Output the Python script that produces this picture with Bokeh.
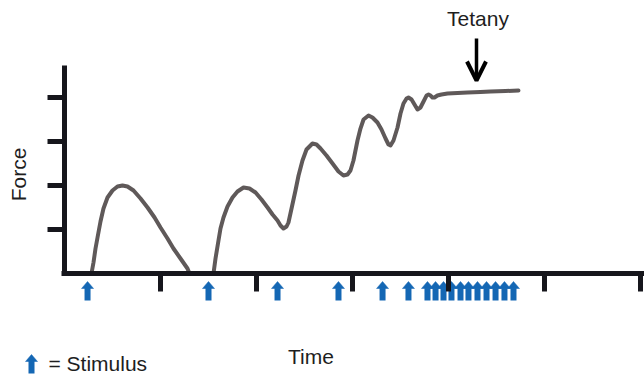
from bokeh.plotting import figure
from bokeh.models import (Range1d, LinearAxis, FixedTicker, ColumnDataSource,
                          Arrow, OpenHead)
from bokeh.core.properties import value
from bokeh.embed import file_html
from bokeh.resources import INLINE

# Force trace (time in tick units, force in tick units)
trace_time = [0.281, 0.302, 0.323, 0.344, 0.375, 0.406, 0.448, 0.500, 0.552, 0.604,
              0.656, 0.719, 0.792, 0.865, 0.938, 1.000, 1.073, 1.135, 1.208, 1.281,
              1.302, 1.552, 1.573, 1.604, 1.625, 1.656, 1.698, 1.750, 1.802, 1.865,
              1.927, 1.990, 2.052, 2.115, 2.167, 2.219, 2.250, 2.281, 2.313, 2.333,
              2.365, 2.406, 2.438, 2.479, 2.521, 2.583, 2.625, 2.667, 2.729, 2.792,
              2.854, 2.906, 2.948, 2.979, 3.010, 3.052, 3.083, 3.115, 3.167, 3.208,
              3.260, 3.302, 3.344, 3.375, 3.396, 3.427, 3.469, 3.500, 3.531, 3.563,
              3.583, 3.615, 3.646, 3.677, 3.708, 3.740, 3.771, 3.792, 3.813, 3.833,
              3.854, 3.885, 3.927, 3.990, 4.094, 4.198, 4.333, 4.438, 4.594, 4.729]
trace_force = [0.000, 0.250, 0.568, 0.818, 1.182, 1.477, 1.727, 1.886, 1.977, 2.000,
               1.977, 1.886, 1.705, 1.500, 1.273, 1.045, 0.795, 0.568, 0.341, 0.114,
               0.000, 0.000, 0.341, 0.750, 1.023, 1.273, 1.523, 1.727, 1.864, 1.955,
               1.932, 1.841, 1.682, 1.500, 1.341, 1.205, 1.091, 1.023, 1.068, 1.159,
               1.477, 1.886, 2.227, 2.568, 2.818, 2.955, 2.932, 2.841, 2.682, 2.500,
               2.318, 2.227, 2.250, 2.341, 2.568, 3.023, 3.295, 3.500, 3.591, 3.545,
               3.432, 3.273, 3.068, 2.932, 2.909, 3.023, 3.318, 3.636, 3.864, 3.977,
               4.000, 3.955, 3.841, 3.727, 3.773, 3.909, 4.045, 4.068, 4.045, 4.000,
               4.000, 4.045, 4.068, 4.091, 4.102, 4.114, 4.125, 4.136, 4.148, 4.159]

# Stimulus times
stimulus_time = [0.240, 1.500, 2.219, 2.854, 3.313, 3.583,
                 3.781, 3.865, 3.948, 4.031, 4.125, 4.208, 4.302, 4.396, 4.490,
                 4.583, 4.677]

x_ticks = [1, 2, 3, 4, 5, 6]
y_ticks = [1, 2, 3, 4]

# pixel scale of the plot: 96 px per time unit, 44 px per force unit
PX_X = 96.0
PX_Y = 44.0
W, H = 644, 379
ORIGIN_X, ORIGIN_Y = 64, 273  # pixel position of (0, 0) from top-left

AXIS_COLOR = "#16161c"
TRACE_COLOR = "#5f5959"
TEXT_COLOR = "#1e1e1e"
BLUE = "#1467b4"
FONT = value("Liberation Sans")
FONT_SIZE = "21px"


def px_x(px):
    return (px - ORIGIN_X) / PX_X


def px_y(py):
    return (ORIGIN_Y - py) / PX_Y


p = figure(width=W, height=H,
           x_range=Range1d(px_x(0), px_x(W)),
           y_range=Range1d(px_y(H), px_y(0)),
           x_axis_type=None, y_axis_type=None,
           min_border=0, toolbar_location=None, output_backend="svg",
           outline_line_color=None, background_fill_color="white",
           border_fill_color="white")


def style_axis(ax, tick_out):
    ax.axis_line_width = 5
    ax.axis_line_color = AXIS_COLOR
    ax.major_tick_line_width = 5
    ax.major_tick_line_color = AXIS_COLOR
    ax.major_tick_in = 0
    ax.major_tick_out = tick_out
    ax.minor_tick_line_color = None
    ax.major_label_text_font_size = "0px"
    ax.major_label_text_color = None


xaxis = LinearAxis(fixed_location=0, ticker=FixedTicker(ticks=x_ticks),
                   bounds=(-0.035, px_x(W)))
style_axis(xaxis, 18)
p.add_layout(xaxis, "below")

yaxis = LinearAxis(fixed_location=0, ticker=FixedTicker(ticks=y_ticks),
                   bounds=(0, px_y(65)))
style_axis(yaxis, 17)
p.add_layout(yaxis, "left")

# force trace
p.line(trace_time, trace_force, line_color=TRACE_COLOR, line_width=4,
       line_join="round", line_cap="round")

# stimulus arrows below the time axis
HEAD_HALF = 6 / PX_X
SHAFT_W = 6 / PX_X
HEAD_TOP = -8 / PX_Y
HEAD_BASE = -15 / PX_Y
SHAFT_BOTTOM = -27 / PX_Y


def stim_arrows(times, dy=0.0):
    heads = ColumnDataSource(dict(
        xs=[[t - HEAD_HALF, t, t + HEAD_HALF] for t in times],
        ys=[[HEAD_BASE + dy, HEAD_TOP + dy, HEAD_BASE + dy] for _ in times]))
    p.patches("xs", "ys", source=heads, fill_color=BLUE, line_color=BLUE,
              line_width=0.5)
    p.vbar(x=times, width=SHAFT_W, top=HEAD_BASE + dy + 0.01,
           bottom=SHAFT_BOTTOM + dy, fill_color=BLUE, line_color=None)


stim_arrows(stimulus_time)

# legend: arrow = Stimulus
stim_arrows([px_x(31)], dy=-73 / PX_Y)
p.text(x=[px_x(48)], y=[px_y(363)], text=["= Stimulus"],
       text_font=FONT, text_font_size=FONT_SIZE, text_color=TEXT_COLOR,
       text_align="left", text_baseline="middle")

# axis titles
p.text(x=[px_x(310.5)], y=[px_y(356)], text=["Time"],
       text_font=FONT, text_font_size=FONT_SIZE, text_color=TEXT_COLOR,
       text_align="center", text_baseline="middle")
p.text(x=[px_x(17.5)], y=[px_y(174)], text=["Force"],
       angle=1.5707963, text_font=FONT, text_font_size=FONT_SIZE,
       text_color=TEXT_COLOR, text_align="center", text_baseline="middle")

# tetany callout
tet_x = px_x(476)
p.text(x=[px_x(477.5)], y=[px_y(17.5)], text=["Tetany"],
       text_font=FONT, text_font_size=FONT_SIZE, text_color=TEXT_COLOR,
       text_align="center", text_baseline="middle")
p.add_layout(Arrow(end=OpenHead(size=19, line_width=4, line_color="black"),
                   x_start=tet_x, y_start=px_y(38),
                   x_end=tet_x, y_end=px_y(80),
                   line_width=3.5, line_color="black"))

open("out.html", "w").write(file_html(p, INLINE))
